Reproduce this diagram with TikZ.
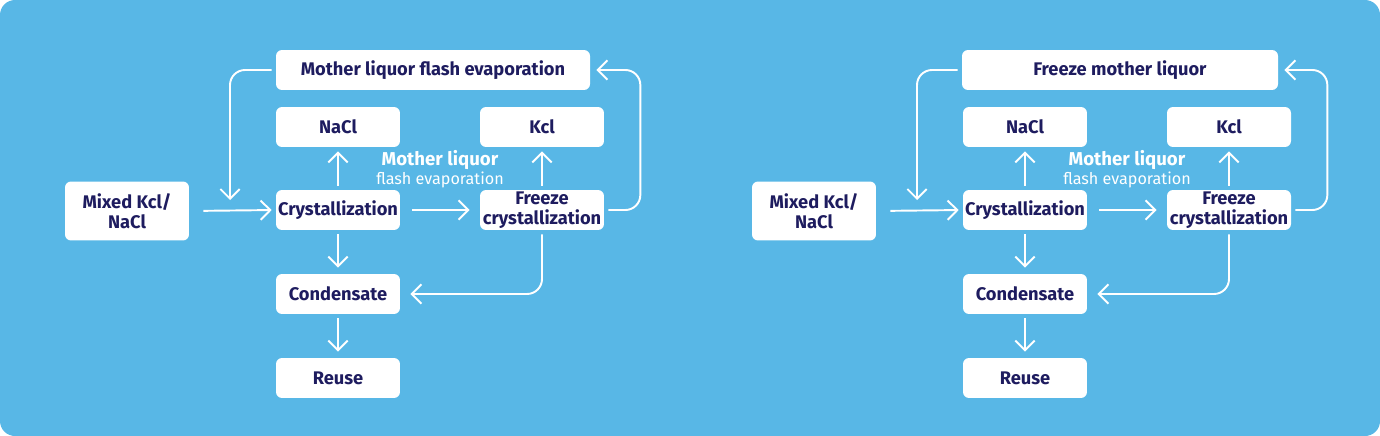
\documentclass[tikz,border=0pt]{standalone}
\usepackage{fontspec}
\setmainfont{Fira Sans}
\usetikzlibrary{arrows.meta}
\definecolor{bg}{RGB}{88,183,230}
\definecolor{ink}{RGB}{30,28,95}
\tikzset{
  box/.style={fill=white, rounded corners=0.12cm, inner sep=0pt, align=center,
    minimum width=2.48cm, minimum height=0.8cm, text=ink,
    font=\fontsize{10.4}{11.4}\selectfont\bfseries},
  arr/.style={draw=white, line width=1.1pt, -{Straight Barb[length=5.5pt,width=11pt,line width=1.1pt]}},
}
\newcommand\mypanel[3]{%
\begin{scope}[xshift=#1*0.02cm]
  \node[box, minimum width=#3*0.02cm] (top#2) at (433,70) {\ifx#2a Mother liquor flash evaporation\else Freeze mother liquor\fi};
  \node[box] (nacl#2) at (338,127) {NaCl};
  \node[box] (kcl#2) at (542,127) {Kcl};
  \node[box, minimum height=1.18cm] (mix#2) at (127,211) {Mixed Kcl/\\NaCl};
  \node[box] (cry#2) at (338,210) {Crystallization};
  \node[box] (frz#2) at (542,210) {Freeze\\crystallization};
  \node[box] (con#2) at (338,294) {Condensate};
  \node[box] (reu#2) at (338,378) {Reuse};
  \node[text=white, align=center, inner sep=0pt] (lab#2) at (440,169)
    {{\fontsize{10.6}{11.6}\selectfont\bfseries Mother liquor}\\[-1pt]{\fontsize{9.2}{10}\selectfont flash evaporation}};
  \coordinate (dl#2) at (230,200);
  \draw[arr, shorten <=0.28cm, shorten >=0.08cm] (mix#2.east) -- (cry#2.west);
  \draw[arr, shorten <=0.24cm, shorten >=0.2cm] (cry#2.east) -- (frz#2.west);
  \draw[arr, shorten <=0.08cm, shorten >=0.08cm] (cry#2.north) -- (nacl#2.south);
  \draw[arr, shorten <=0.08cm, shorten >=0.08cm] (frz#2.north) -- (kcl#2.south);
  \draw[arr, shorten <=0.08cm, shorten >=0.12cm] (cry#2.south) -- (con#2.north);
  \draw[arr, shorten <=0.08cm, shorten >=0.12cm] (con#2.south) -- (reu#2.north);
  \draw[arr, rounded corners=0.3cm, shorten <=0.08cm, shorten >=0.12cm] (frz#2.east) -- ++(36,0) |- (top#2.east);
  \draw[arr, rounded corners=0.3cm, shorten <=0.08cm] (top#2.west) -| (dl#2);
  \draw[arr, rounded corners=0.3cm, shorten <=0.08cm, shorten >=0.2cm] (frz#2.south) |- (con#2.east);
\end{scope}}
\begin{document}
\begin{tikzpicture}[x=0.02cm, y=-0.02cm]
  \fill[white] (0,0) rectangle (1380,436);
  \fill[bg, rounded corners=0.3cm] (0,0) rectangle (1380,436);
  \mypanel{0}{a}{314}
  \mypanel{687}{b}{316}
\end{tikzpicture}
\end{document}
